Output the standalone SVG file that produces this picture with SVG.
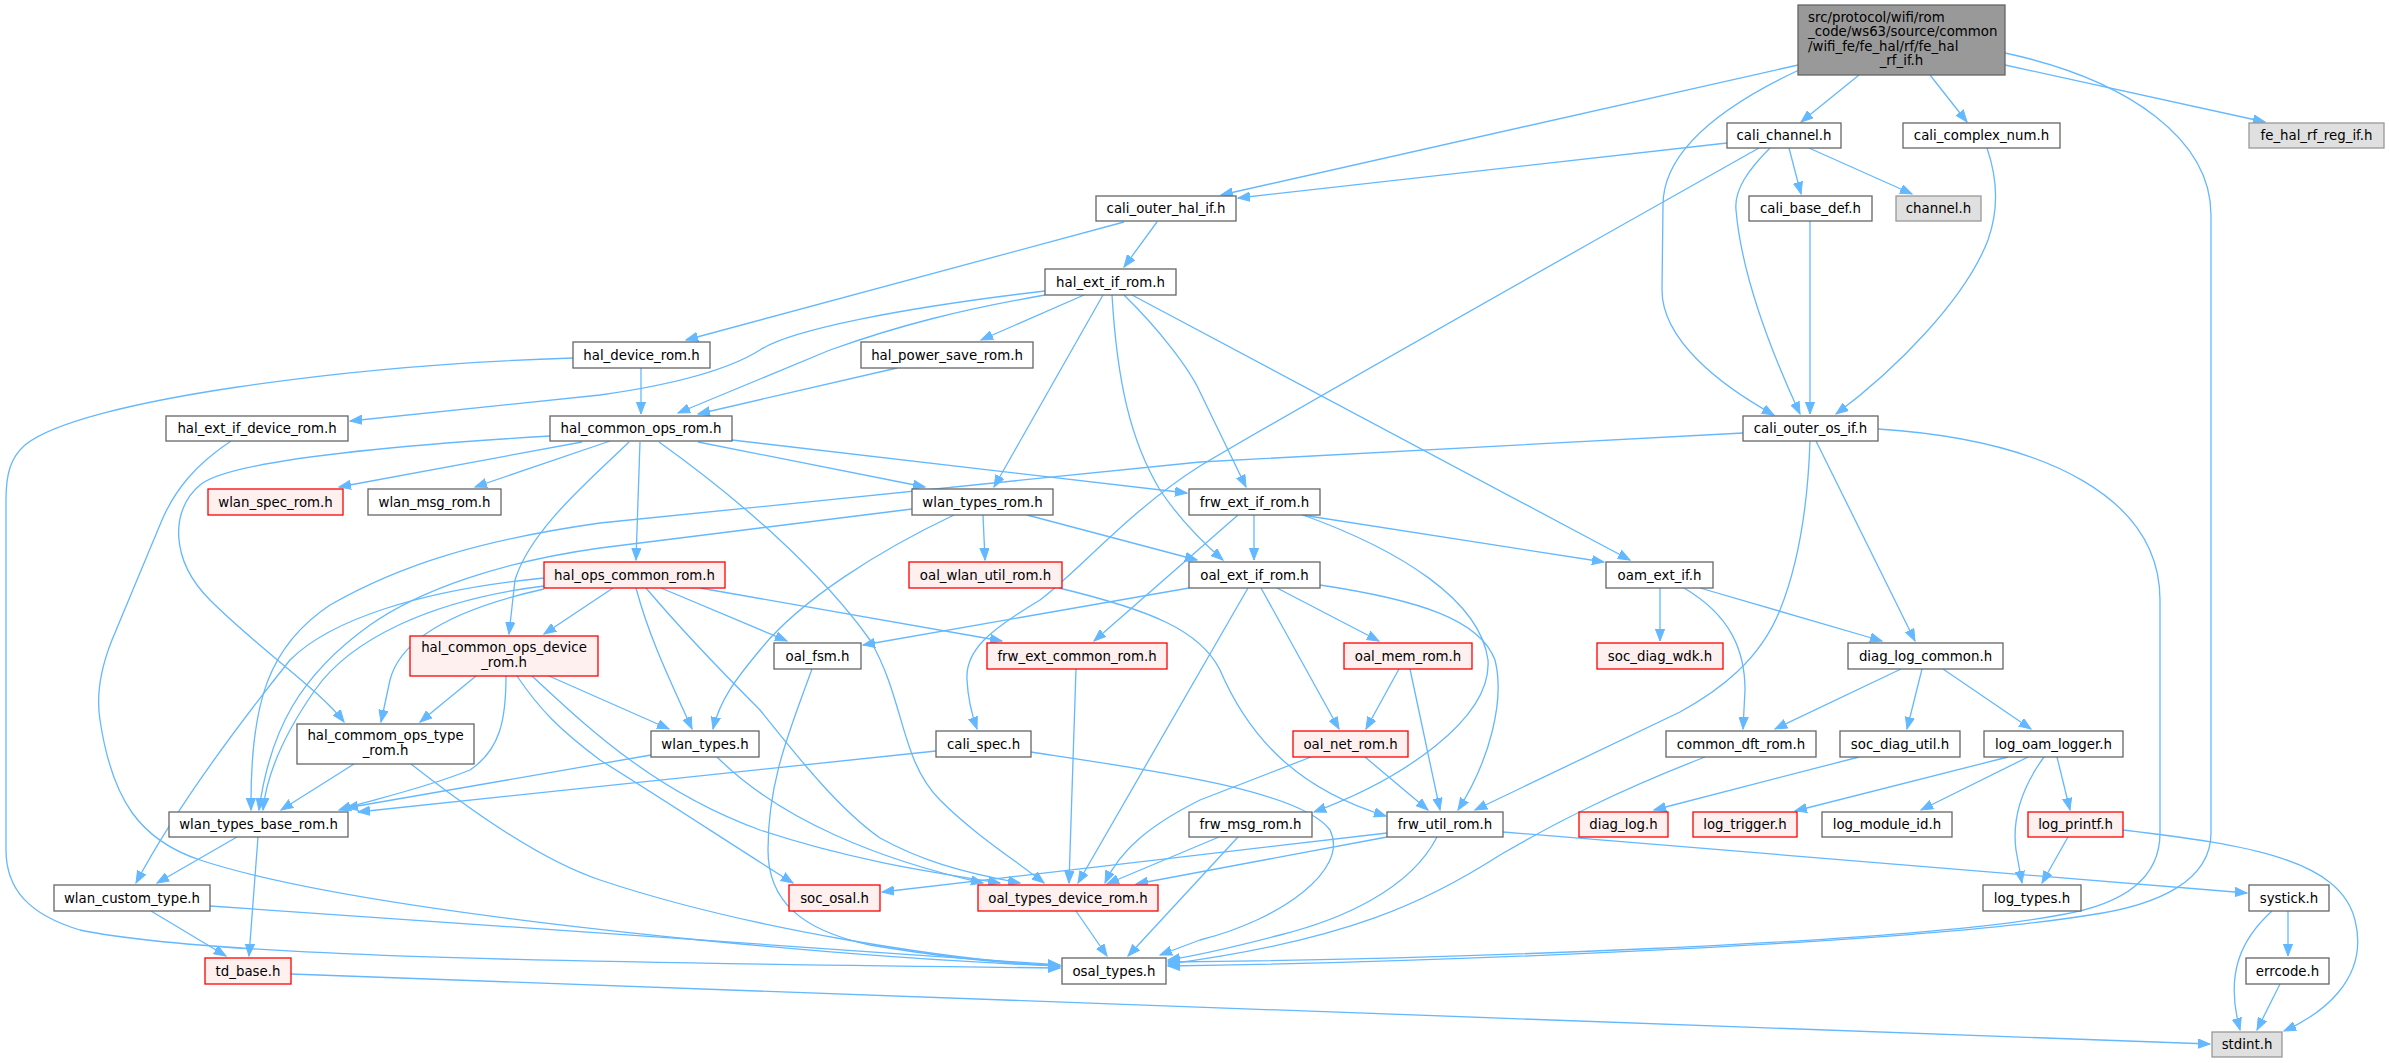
<svg xmlns="http://www.w3.org/2000/svg" width="2389" height="1063" viewBox="0 0 2389 1063">
<style>
.n rect{fill:#ffffff;stroke:#666666;stroke-width:1.3}
.r rect{fill:#fff0f0;stroke:#ff0000;stroke-width:1.3}
.g rect{fill:#e0e0e0;stroke:#999999;stroke-width:1.3}
.root rect{fill:#999999;stroke:#666666;stroke-width:1.3}
text{font-family:"DejaVu Sans","Liberation Sans",sans-serif;font-size:13.33px;fill:#000000;text-anchor:middle}
#edges path{fill:none;stroke:#63b8ff;stroke-width:1.3;marker-end:url(#ah)}
</style>
<defs>
<marker id="ah" markerUnits="userSpaceOnUse" markerWidth="13" markerHeight="10" refX="12" refY="5" orient="auto">
<path d="M0,0.4 L12,5 L0,9.6 z" fill="#63b8ff" stroke="#63b8ff" stroke-width="1"/>
</marker>
</defs>
<rect width="2389" height="1063" fill="#ffffff"/>
<g id="edges">
<path d="M1798,65 L1221,195"/>
<path d="M1859,75 L1801,122"/>
<path d="M1930,75 L1967,122"/>
<path d="M2005,65 L2265,122"/>
<path d="M2005,53 C2130,80 2211,140 2211,215 L2211,833 C2211,880 2160,905 2090,915 C1900,945 1400,963 1168,966"/>
<path d="M1799,70 C1735,100 1663,145 1663,205 L1662,290 C1662,340 1720,385 1774,415"/>
<path d="M1727,143 L1238,198"/>
<path d="M1759,148 C1560,260 1320,395 1200,466 C1130,510 1080,570 1040,600 C990,630 965,650 967,680 C968,700 972,715 977,729"/>
<path d="M1789,148 L1801,194"/>
<path d="M1809,148 L1912,194"/>
<path d="M1770,148 C1748,170 1734,190 1736,210 C1742,280 1775,360 1800,414"/>
<path d="M1987,148 C1998,180 1998,212 1988,240 C1965,300 1895,370 1836,414"/>
<path d="M1810,221 L1810,414"/>
<path d="M1124,222 L686,340"/>
<path d="M1157,222 L1124,267"/>
<path d="M1045,291 C900,308 790,330 760,350 C720,375 650,388 600,395 C500,405 420,414 350,421"/>
<path d="M1045,295 C960,310 900,325 830,350 L678,413"/>
<path d="M1084,295 L981,340"/>
<path d="M1103,295 L994,487"/>
<path d="M1112,295 C1117,380 1130,440 1160,490 C1180,520 1200,540 1223,560"/>
<path d="M1124,295 C1160,330 1190,370 1200,392 L1246,487"/>
<path d="M1132,295 L1630,560"/>
<path d="M641,368 L641,414"/>
<path d="M573,358 C350,365 80,400 25,445 C10,458 6,475 6,500 L6,850 C6,890 30,915 80,930 C200,955 500,962 1060,968"/>
<path d="M897,368 L698,414"/>
<path d="M231,441 C195,465 175,490 162,520 L112,640 C100,670 96,695 100,720 C112,800 140,840 200,860 C300,893 500,920 700,940 C850,955 950,962 1060,966"/>
<path d="M582,442 L339,487"/>
<path d="M610,441 L475,487"/>
<path d="M550,436 C400,445 230,460 200,485 C170,510 170,560 210,600 C260,650 320,690 344,722"/>
<path d="M629,442 C590,480 530,530 515,580 L509,634"/>
<path d="M640,442 L636,560"/>
<path d="M659,442 C740,500 820,570 870,640 C905,700 900,760 940,800 C975,835 1015,860 1044,883"/>
<path d="M698,442 L925,487"/>
<path d="M732,440 L1187,493"/>
<path d="M1743,433 L1200,462 L600,523 C480,540 400,565 330,605 C270,645 250,700 251,810"/>
<path d="M1810,441 C1808,500 1800,560 1780,610 C1760,660 1720,690 1680,712 L1475,810"/>
<path d="M1816,441 L1915,641"/>
<path d="M1878,429 C2050,440 2160,500 2160,600 L2160,833 C2160,880 2120,905 2060,915 C1900,945 1400,960 1168,962"/>
<path d="M912,509 L600,548 C500,562 420,590 370,625 C300,675 270,730 259,810"/>
<path d="M983,515 L985,560"/>
<path d="M1027,515 L1197,560"/>
<path d="M954,515 C880,550 800,600 760,650 C735,680 720,700 713,729"/>
<path d="M1254,515 L1254,560"/>
<path d="M1238,515 L1094,641"/>
<path d="M1302,515 L1604,562"/>
<path d="M1303,515 C1400,550 1480,600 1488,660 C1492,720 1400,780 1314,812"/>
<path d="M1189,588 L863,645"/>
<path d="M1248,588 L1078,883"/>
<path d="M1261,588 L1339,729"/>
<path d="M1277,588 L1379,641"/>
<path d="M1320,585 C1420,600 1480,620 1495,660 C1505,700 1490,760 1458,810"/>
<path d="M1660,588 L1660,641"/>
<path d="M1684,588 C1730,615 1745,650 1745,690 L1743,729"/>
<path d="M1700,588 L1882,641"/>
<path d="M1399,669 L1366,729"/>
<path d="M1410,669 L1440,810"/>
<path d="M1365,757 L1428,810"/>
<path d="M1311,757 L1200,800 C1150,825 1120,850 1105,883"/>
<path d="M1387,833 L882,892"/>
<path d="M1387,837 L1136,884"/>
<path d="M1437,837 C1410,890 1340,920 1280,935 C1230,948 1200,955 1168,960"/>
<path d="M1503,832 L2247,893"/>
<path d="M1219,837 L1107,884"/>
<path d="M1238,837 L1128,956"/>
<path d="M1076,669 L1069,883"/>
<path d="M812,669 C790,730 768,780 768,850 C768,900 800,930 870,945 C950,958 1000,963 1060,966"/>
<path d="M1059,588 C1150,610 1200,630 1220,670 C1250,740 1300,790 1386,816"/>
<path d="M651,755 L346,808"/>
<path d="M717,757 C780,820 880,860 983,883"/>
<path d="M151,911 L226,956"/>
<path d="M210,906 L1060,965"/>
<path d="M237,837 L157,883"/>
<path d="M258,837 L249,956"/>
<path d="M354,764 L281,810"/>
<path d="M411,764 C470,810 540,860 600,880 C750,930 950,960 1060,966"/>
<path d="M291,974 L2210,1044"/>
<path d="M476,676 L420,722"/>
<path d="M506,676 C506,720 500,750 470,770 C420,790 370,800 339,810"/>
<path d="M517,676 C540,710 560,730 600,760 C680,810 740,850 793,883"/>
<path d="M532,676 C580,720 650,790 760,830 C850,860 930,872 1000,883"/>
<path d="M549,676 L669,729"/>
<path d="M613,588 L544,634"/>
<path d="M544,578 C420,590 330,620 290,660 C250,710 180,800 136,883"/>
<path d="M544,586 C430,600 350,640 315,690 C280,740 266,780 263,810"/>
<path d="M544,589 C450,610 400,640 390,680 L381,722"/>
<path d="M661,588 L787,641"/>
<path d="M700,588 L1002,641"/>
<path d="M636,588 C650,640 670,680 692,729"/>
<path d="M646,588 C690,640 730,680 760,710 C800,760 840,810 880,838 C920,860 960,872 1020,883"/>
<path d="M936,751 L358,812"/>
<path d="M1031,752 C1150,770 1300,790 1330,830 C1350,870 1280,920 1200,940 L1160,955"/>
<path d="M1705,757 C1620,790 1560,820 1500,855 C1430,900 1350,940 1168,964"/>
<path d="M1901,669 L1775,729"/>
<path d="M1922,669 L1907,729"/>
<path d="M1943,669 L2031,729"/>
<path d="M1859,757 L1654,810"/>
<path d="M2008,757 L1795,811"/>
<path d="M2028,757 L1921,810"/>
<path d="M2044,757 C2020,790 2012,820 2016,850 L2022,883"/>
<path d="M2057,757 L2070,810"/>
<path d="M2068,837 L2042,883"/>
<path d="M2123,830 C2250,845 2340,860 2355,920 C2370,980 2320,1015 2284,1031"/>
<path d="M2288,911 L2288,956"/>
<path d="M2272,911 C2240,940 2225,975 2240,1030"/>
<path d="M2280,984 L2257,1030"/>
<path d="M1076,911 L1107,956"/>
</g>
<g id="root" class="root"><rect x="1798" y="5" width="207" height="70"/>
<text x="1808" y="21.5" style="text-anchor:start">src/protocol/wifi/rom</text>
<text x="1808" y="36" style="text-anchor:start">_code/ws63/source/common</text>
<text x="1808" y="50.5" style="text-anchor:start">/wifi_fe/fe_hal/rf/fe_hal</text>
<text x="1901.5" y="65">_rf_if.h</text></g>
<g id="cali_channel" class="n"><rect x="1727" y="123" width="114" height="25"/><text x="1784" y="140">cali_channel.h</text></g>
<g id="cali_complex_num" class="n"><rect x="1903" y="123" width="157" height="25"/><text x="1981.5" y="140">cali_complex_num.h</text></g>
<g id="fe_hal_rf_reg_if" class="g"><rect x="2249" y="123" width="135" height="25"/><text x="2316.5" y="140">fe_hal_rf_reg_if.h</text></g>
<g id="cali_outer_hal_if" class="n"><rect x="1096" y="196" width="140" height="25"/><text x="1166" y="213">cali_outer_hal_if.h</text></g>
<g id="cali_base_def" class="n"><rect x="1749" y="196" width="123" height="25"/><text x="1810.5" y="213">cali_base_def.h</text></g>
<g id="channel" class="g"><rect x="1896" y="196" width="85" height="25"/><text x="1938.5" y="213">channel.h</text></g>
<g id="hal_ext_if_rom" class="n"><rect x="1045" y="269" width="131" height="26"/><text x="1110.5" y="286.5">hal_ext_if_rom.h</text></g>
<g id="hal_device_rom" class="n"><rect x="573" y="342" width="137" height="26"/><text x="641.5" y="359.5">hal_device_rom.h</text></g>
<g id="hal_power_save_rom" class="n"><rect x="861" y="342" width="172" height="26"/><text x="947" y="359.5">hal_power_save_rom.h</text></g>
<g id="hal_ext_if_device_rom" class="n"><rect x="166" y="416" width="182" height="25"/><text x="257" y="433">hal_ext_if_device_rom.h</text></g>
<g id="hal_common_ops_rom" class="n"><rect x="550" y="416" width="182" height="25"/><text x="641" y="433">hal_common_ops_rom.h</text></g>
<g id="cali_outer_os_if" class="n"><rect x="1743" y="416" width="135" height="25"/><text x="1810.5" y="433">cali_outer_os_if.h</text></g>
<g id="wlan_spec_rom" class="r"><rect x="208" y="489" width="135" height="26"/><text x="275.5" y="506.5">wlan_spec_rom.h</text></g>
<g id="wlan_msg_rom" class="n"><rect x="368" y="489" width="133" height="26"/><text x="434.5" y="506.5">wlan_msg_rom.h</text></g>
<g id="wlan_types_rom" class="n"><rect x="912" y="489" width="141" height="26"/><text x="982.5" y="506.5">wlan_types_rom.h</text></g>
<g id="frw_ext_if_rom" class="n"><rect x="1189" y="489" width="131" height="26"/><text x="1254.5" y="506.5">frw_ext_if_rom.h</text></g>
<g id="hal_ops_common_rom" class="r"><rect x="544" y="562" width="181" height="26"/><text x="634.5" y="579.5">hal_ops_common_rom.h</text></g>
<g id="oal_wlan_util_rom" class="r"><rect x="909" y="562" width="153" height="26"/><text x="985.5" y="579.5">oal_wlan_util_rom.h</text></g>
<g id="oal_ext_if_rom" class="n"><rect x="1189" y="562" width="131" height="26"/><text x="1254.5" y="579.5">oal_ext_if_rom.h</text></g>
<g id="oam_ext_if" class="n"><rect x="1606" y="562" width="107" height="26"/><text x="1659.5" y="579.5">oam_ext_if.h</text></g>
<g id="hal_common_ops_device_rom" class="r"><rect x="410" y="636" width="188" height="40"/><text x="504" y="651.5">hal_common_ops_device</text><text x="504" y="666.5">_rom.h</text></g>
<g id="oal_fsm" class="n"><rect x="774" y="643" width="87" height="26"/><text x="817.5" y="660.5">oal_fsm.h</text></g>
<g id="frw_ext_common_rom" class="r"><rect x="987" y="643" width="180" height="26"/><text x="1077" y="660.5">frw_ext_common_rom.h</text></g>
<g id="oal_mem_rom" class="r"><rect x="1344" y="643" width="128" height="26"/><text x="1408" y="660.5">oal_mem_rom.h</text></g>
<g id="soc_diag_wdk" class="r"><rect x="1597" y="643" width="126" height="26"/><text x="1660" y="660.5">soc_diag_wdk.h</text></g>
<g id="diag_log_common" class="n"><rect x="1848" y="643" width="155" height="26"/><text x="1925.5" y="660.5">diag_log_common.h</text></g>
<g id="hal_commom_ops_type_rom" class="n"><rect x="297" y="724" width="177" height="40"/><text x="385.5" y="739.5">hal_commom_ops_type</text><text x="385.5" y="754.5">_rom.h</text></g>
<g id="wlan_types" class="n"><rect x="651" y="731" width="108" height="26"/><text x="705" y="748.5">wlan_types.h</text></g>
<g id="cali_spec" class="n"><rect x="936" y="731" width="95" height="26"/><text x="983.5" y="748.5">cali_spec.h</text></g>
<g id="oal_net_rom" class="r"><rect x="1293" y="731" width="115" height="26"/><text x="1350.5" y="748.5">oal_net_rom.h</text></g>
<g id="common_dft_rom" class="n"><rect x="1666" y="731" width="150" height="26"/><text x="1741" y="748.5">common_dft_rom.h</text></g>
<g id="soc_diag_util" class="n"><rect x="1840" y="731" width="120" height="26"/><text x="1900" y="748.5">soc_diag_util.h</text></g>
<g id="log_oam_logger" class="n"><rect x="1984" y="731" width="139" height="26"/><text x="2053.5" y="748.5">log_oam_logger.h</text></g>
<g id="wlan_types_base_rom" class="n"><rect x="169" y="812" width="179" height="25"/><text x="258.5" y="829">wlan_types_base_rom.h</text></g>
<g id="frw_msg_rom" class="n"><rect x="1189" y="812" width="123" height="25"/><text x="1250.5" y="829">frw_msg_rom.h</text></g>
<g id="frw_util_rom" class="n"><rect x="1387" y="812" width="116" height="25"/><text x="1445" y="829">frw_util_rom.h</text></g>
<g id="diag_log" class="r"><rect x="1579" y="812" width="89" height="25"/><text x="1623.5" y="829">diag_log.h</text></g>
<g id="log_trigger" class="r"><rect x="1693" y="812" width="104" height="25"/><text x="1745" y="829">log_trigger.h</text></g>
<g id="log_module_id" class="n"><rect x="1822" y="812" width="130" height="25"/><text x="1887" y="829">log_module_id.h</text></g>
<g id="log_printf" class="r"><rect x="2028" y="812" width="95" height="25"/><text x="2075.5" y="829">log_printf.h</text></g>
<g id="wlan_custom_type" class="n"><rect x="54" y="885" width="156" height="26"/><text x="132" y="902.5">wlan_custom_type.h</text></g>
<g id="soc_osal" class="r"><rect x="789" y="885" width="91" height="26"/><text x="834.5" y="902.5">soc_osal.h</text></g>
<g id="oal_types_device_rom" class="r"><rect x="978" y="885" width="180" height="26"/><text x="1068" y="902.5">oal_types_device_rom.h</text></g>
<g id="log_types" class="n"><rect x="1983" y="885" width="98" height="26"/><text x="2032" y="902.5">log_types.h</text></g>
<g id="systick" class="n"><rect x="2249" y="885" width="80" height="26"/><text x="2289" y="902.5">systick.h</text></g>
<g id="td_base" class="r"><rect x="205" y="958" width="86" height="26"/><text x="248" y="975.5">td_base.h</text></g>
<g id="osal_types" class="n"><rect x="1062" y="958" width="104" height="26"/><text x="1114" y="975.5">osal_types.h</text></g>
<g id="errcode" class="n"><rect x="2246" y="958" width="83" height="26"/><text x="2287.5" y="975.5">errcode.h</text></g>
<g id="stdint" class="g"><rect x="2212" y="1032" width="70" height="25"/><text x="2247" y="1049">stdint.h</text></g>
</svg>
